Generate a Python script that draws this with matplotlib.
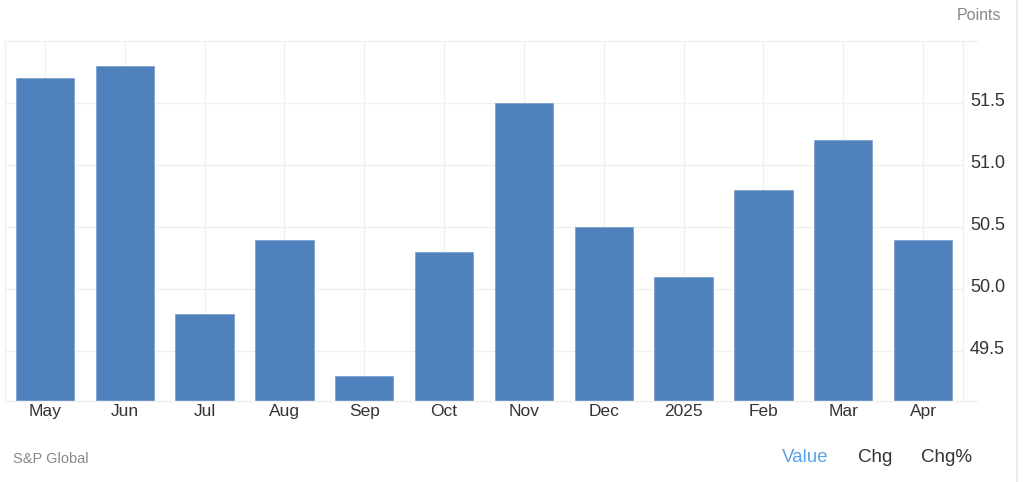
import matplotlib
matplotlib.use("Agg")
import matplotlib.pyplot as plt
from matplotlib.lines import Line2D
from matplotlib.transforms import ScaledTranslation

categories = ["May", "Jun", "Jul", "Aug", "Sep", "Oct", "Nov", "Dec", "2025", "Feb", "Mar", "Apr"]
values = [51.7, 51.8, 49.8, 50.4, 49.3, 50.3, 51.5, 50.5, 50.1, 50.8, 51.2, 50.4]
yticks = [49.5, 50.0, 50.5, 51.0, 51.5]

plt.rcParams['font.family'] = ['Liberation Sans', 'DejaVu Sans']

fig = plt.figure(figsize=(10.24, 4.82), dpi=100)
W, H = 1024, 482
ax = fig.add_axes([5 / W, 1 - 401 / H, (963 - 5) / W, (401 - 41) / H])

x = list(range(len(categories)))
ax.bar(x, values, width=0.73, color="#4f81bd", edgecolor="#7ea2d2", linewidth=0.6, zorder=2)
ax.set_xlim(-0.5, len(categories) - 0.5)
ax.set_ylim(49.1, 52.0)

ax.set_xticks(x)
ax.set_xticklabels(categories, fontsize=12.5, color="#333333")
ax.set_yticks(yticks)
ax.set_yticklabels([f"{v:.1f}" for v in yticks], fontsize=13, color="#333333")
ax.yaxis.tick_right()
ax.tick_params(axis="both", length=0)
ax.tick_params(axis="y", pad=5)
ax.tick_params(axis="x", pad=2)
offset = ScaledTranslation(0, 4 / 100, fig.dpi_scale_trans)
for lbl in ax.get_yticklabels():
    lbl.set_transform(lbl.get_transform() + offset)

ax.grid(True, color="#f0f0f0", linewidth=1, zorder=0)
for s in ["left", "right", "top", "bottom"]:
    ax.spines[s].set_color("#f0f0f0")
    ax.spines[s].set_linewidth(1)

# border lines extending slightly past the plot area on the right
fig.add_artist(Line2D([963 / W, 977 / W], [1 - 41 / H, 1 - 41 / H], color="#f0f0f0", linewidth=1))
fig.add_artist(Line2D([963 / W, 977 / W], [1 - 401 / H, 1 - 401 / H], color="#f0f0f0", linewidth=1))

fig.text(1001 / W, 1 - 16 / H, "Points", fontsize=11.5, color="#888888", ha="right", va="center")
fig.text(13 / W, 1 - 459 / H, "S&P Global", fontsize=10.5, color="#888888", ha="left", va="center")
fig.text(782 / W, 1 - 458 / H, "Value", fontsize=13.5, color="#5ba3e6", ha="left", va="center")
fig.text(858 / W, 1 - 458 / H, "Chg", fontsize=13.5, color="#333333", ha="left", va="center")
fig.text(921 / W, 1 - 458 / H, "Chg%", fontsize=13.5, color="#333333", ha="left", va="center")

fig.add_artist(Line2D([1017 / W, 1017 / W], [0, 1], color="#ececec", linewidth=1.5))

fig.savefig("out.png", dpi=100, facecolor="white")
